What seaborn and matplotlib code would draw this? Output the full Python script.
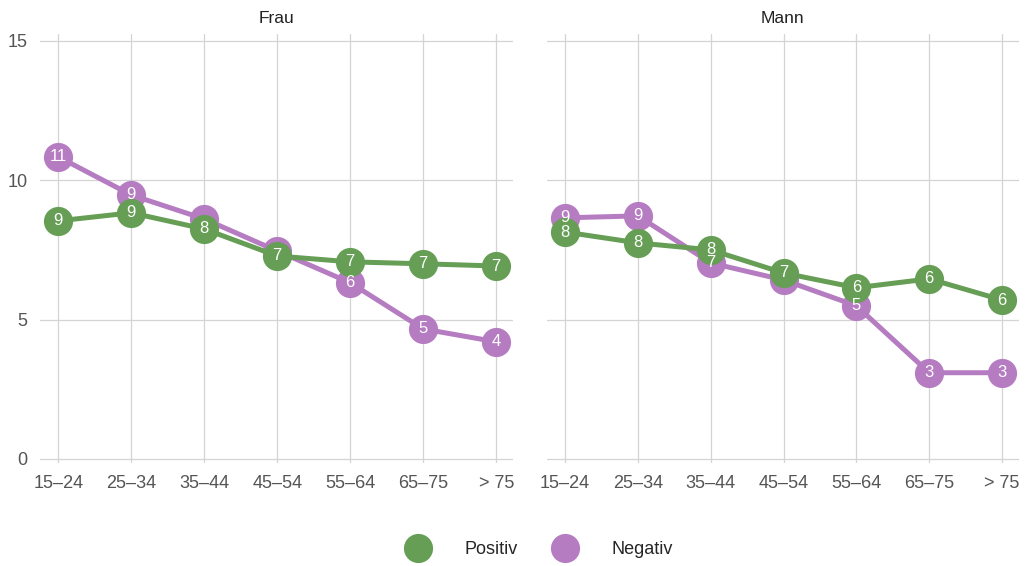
import numpy as np
import pandas as pd
import matplotlib
matplotlib.use("Agg")
import matplotlib.pyplot as plt
from matplotlib.lines import Line2D
import seaborn as sns

## data
ages = ["15\u201324", "25\u201334", "35\u201344", "45\u201354", "55\u201364", "65\u201375", "> 75"]
panels = ["Frau", "Mann"]
series = ["Positiv", "Negativ"]

frau_pos = [8.54, 8.83, 8.25, 7.28, 7.07, 7.00, 6.92]
frau_neg = [10.84, 9.47, 8.61, 7.46, 6.32, 4.66, 4.20]
mann_pos = [8.14, 7.75, 7.50, 6.67, 6.14, 6.46, 5.70]
mann_neg = [8.65, 8.72, 7.03, 6.42, 5.49, 3.09, 3.09]

colors = {"Positiv": "#669e55", "Negativ": "#b57cc1"}

rows = []
for panel, pos, neg in [("Frau", frau_pos, frau_neg), ("Mann", mann_pos, mann_neg)]:
    for i, a in enumerate(ages):
        rows.append({"panel": panel, "age": a, "x": i, "serie": "Positiv", "value": pos[i]})
        rows.append({"panel": panel, "age": a, "x": i, "serie": "Negativ", "value": neg[i]})
df = pd.DataFrame(rows)

sns.set_theme(style="whitegrid")
plt.rcParams["font.family"] = ["Liberation Sans", "DejaVu Sans"]

fig = plt.figure(figsize=(10.26, 5.66), dpi=100)
axes = [fig.add_axes([0.039, 0.182, 0.461, 0.758]),
        fig.add_axes([0.533, 0.182, 0.460, 0.758])]

for ax, panel in zip(axes, panels):
    sub = df[df["panel"] == panel]
    # negative drawn first so positive sits on top
    for z, s in [(2, "Negativ"), (3, "Positiv")]:
        d = sub[sub["serie"] == s]
        sns.lineplot(data=d, x="x", y="value", ax=ax, color=colors[s], lw=3.6,
                     marker="o", markersize=21, markeredgewidth=0, legend=False,
                     zorder=z)
    pos_v = sub[sub["serie"] == "Positiv"]["value"].values
    neg_v = sub[sub["serie"] == "Negativ"]["value"].values
    # labels on top; a negative label that would collide with the positive one is dropped
    for xx in range(len(ages)):
        ax.text(xx, pos_v[xx], str(int(round(pos_v[xx]))), color="white", fontsize=12,
                ha="center", va="center", zorder=5)
        if abs(neg_v[xx] - pos_v[xx]) > 0.45:
            ax.text(xx, neg_v[xx], str(int(round(neg_v[xx]))), color="white", fontsize=12,
                    ha="center", va="center", zorder=5)
    ax.set_xlim(-0.25, 6.23)
    ax.set_ylim(-0.15, 15.25)
    ax.set_xticks(range(len(ages)))
    ax.set_xticklabels(ages)
    ax.set_yticks([0, 5, 10, 15])
    if panel == "Mann":
        ax.set_yticklabels([])
    ax.set_xlabel("")
    ax.set_ylabel("")
    ax.set_title(panel, fontsize=12.5, color="#222222", pad=8)
    ax.tick_params(axis="both", labelsize=13, colors="#555555", length=0)
    ax.tick_params(axis="x", pad=9)
    ax.tick_params(axis="y", pad=9)
    ax.grid(True, color="#d4d4d4", lw=0.9)
    for sp in ax.spines.values():
        sp.set_visible(False)

handles = [Line2D([], [], ls="", marker="o", markersize=21, markeredgewidth=0, color=colors[s])
           for s in series]
fig.legend(handles, series, loc="lower center", bbox_to_anchor=(0.523, -0.015), ncol=2,
           frameon=False, fontsize=13, handletextpad=1.6, columnspacing=1.6)

fig.savefig("out.png", dpi=100)
